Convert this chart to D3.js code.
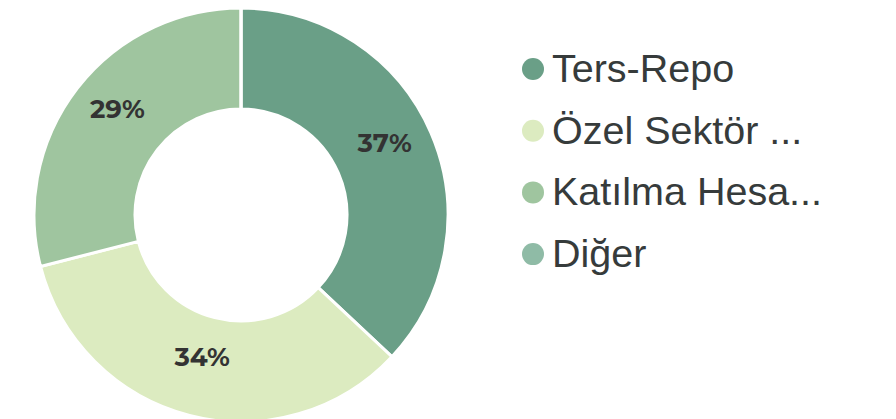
<!DOCTYPE html>
<html><head><meta charset="utf-8">
<script src="https://cdn.jsdelivr.net/npm/d3@7"></script>
<style>body{margin:0;background:#fff;}svg{display:block;}</style>
</head><body>
<script>
const categories = ["Ters-Repo", "Özel Sektör ...", "Katılma Hesa...", "Diğer"];
const values = [37, 34, 29, 0];
const labels = ["37%", "34%", "29%", ""];
const colors = ["#6a9f87", "#dcebc0", "#9fc59f", "#8fbba6"];

const W = 896, H = 419;
const svg = d3.select("body").append("svg").attr("width", W).attr("height", H);
const cx = 241, cy = 215, R = 207, r = 106;

const pie = d3.pie().sort(null).value(d => d)(values);
const arc = d3.arc().innerRadius(r).outerRadius(R);

const g = svg.append("g").attr("transform", `translate(${cx},${cy})`);
g.selectAll("path").data(pie).join("path")
  .attr("d", arc)
  .attr("fill", (d, i) => colors[i])
  .attr("stroke", "#fff").attr("stroke-width", 3);

g.selectAll("text").data(pie).join("text")
  .attr("transform", d => { const [x, y] = arc.centroid(d); return `translate(${x},${y - 1})`; })
  .attr("text-anchor", "middle")
  .attr("font-family", "Montserrat, 'Open Sans', sans-serif")
  .attr("font-weight", 700)
  .attr("font-size", 26)
  .attr("fill", "#333")
  .text((d, i) => labels[i]);

const y0 = 69, step = 61.7;
const leg = svg.append("g");
categories.forEach((c, i) => {
  leg.append("circle").attr("cx", 533).attr("cy", y0 + i * step).attr("r", 11).attr("fill", colors[i]);
  leg.append("text").attr("x", 552).attr("y", y0 + i * step + 13)
    .attr("font-family", "'Liberation Sans', Arial, sans-serif")
    .attr("font-size", 39.5).attr("fill", "#363b3b").text(c);
});
</script>
</body></html>
